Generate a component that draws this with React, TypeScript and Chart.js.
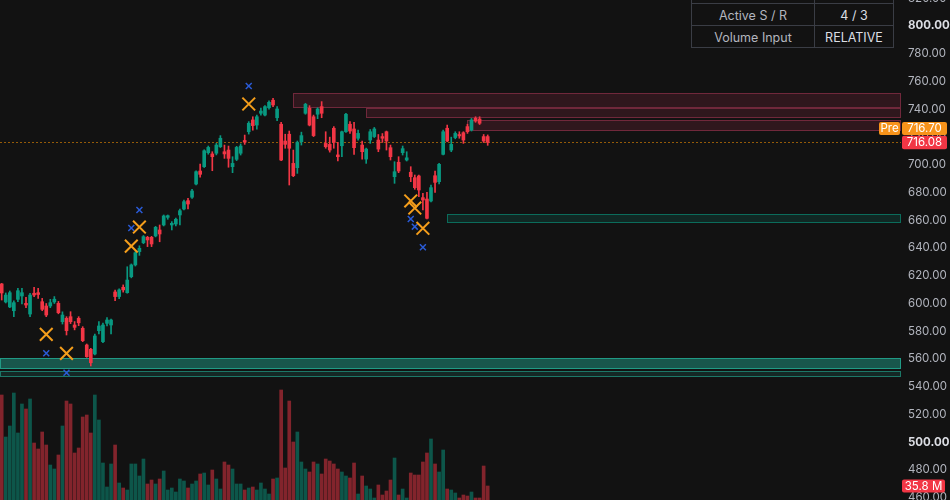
import React, { useEffect, useRef } from 'react';
import { Chart, registerables } from 'chart.js';

Chart.register(...registerables);

// ---------- DATA ----------
const OPEN = [
  614.1, 601.1, 597.5, 594.8, 603.0, 605.4, 600.1, 592.4, 607.4, 607.8,
  601.3, 598.2, 598.2, 601.1, 600.1, 586.9, 589.3, 590.5, 584.5, 589.3,
  582.1, 570.1, 567.0, 563.6, 580.4, 572.5, 585.7, 584.5, 608.3, 605.0,
  611.7, 607.8, 619.3, 627.8, 637.4, 643.8, 647.7, 647.7, 648.7, 653.0,
  656.6, 662.1, 656.6, 657.3, 663.8, 668.1, 674.1, 676.6, 686.1, 695.5,
  698.6, 708.7, 707.8, 708.3, 713.0, 709.4, 710.6, 698.6, 703.9, 708.3,
  717.5, 723.8, 732.3, 728.6, 737.1, 735.8, 741.1, 746.5, 733.9, 729.2,
  717.1, 722.0, 701.0, 697.9, 716.6, 737.1, 740.7, 734.6, 736.4, 741.9,
  715.4, 714.7, 726.3, 707.1, 713.7, 723.8, 729.2, 725.8, 719.1, 714.2,
  704.1, 717.8, 720.3, 717.8, 720.3, 723.8, 712.3, 691.4, 701.8, 708.7,
  703.4, 694.6, 690.7, 691.9, 676.3, 675.3, 673.9, 692.1, 687.8, 707.5,
  726.3, 710.6, 719.6, 721.8, 723.1, 727.5, 725.0, 733.5, 733.0, 720.3,
  720.3,
];
const HIGH = [
  614.5, 607.6, 609.0, 602.0, 611.0, 611.0, 604.5, 607.4, 611.7, 611.0,
  603.7, 600.0, 603.0, 605.0, 601.5, 594.0, 590.5, 594.1, 587.0, 590.5,
  583.3, 570.8, 567.7, 578.0, 587.0, 585.9, 589.8, 588.8, 609.6, 610.5,
  613.4, 626.5, 628.5, 637.3, 641.6, 649.0, 648.4, 648.4, 655.6, 656.6,
  663.8, 663.8, 659.0, 661.5, 668.0, 674.6, 675.8, 682.3, 695.7, 700.5,
  710.8, 713.5, 709.4, 715.4, 721.0, 714.2, 713.5, 705.8, 713.3, 715.0,
  721.4, 731.1, 734.6, 735.8, 740.9, 742.6, 746.0, 747.9, 741.9, 730.6,
  722.0, 724.3, 710.6, 717.1, 723.5, 744.3, 742.6, 735.8, 741.1, 745.5,
  723.8, 719.9, 727.5, 716.1, 724.3, 737.1, 731.1, 730.6, 725.0, 717.1,
  712.0, 725.4, 726.9, 721.8, 722.5, 724.3, 714.2, 702.2, 705.8, 713.5,
  709.4, 698.6, 692.6, 692.6, 679.4, 680.1, 685.4, 695.5, 701.0, 725.0,
  728.6, 719.9, 723.8, 723.8, 723.8, 729.2, 733.4, 734.6, 734.6, 721.8,
  721.5,
];
const LOW = [
  602.5, 600.4, 597.0, 590.5, 601.3, 599.7, 597.0, 590.5, 604.9, 603.7,
  594.8, 590.5, 597.0, 600.0, 592.6, 585.2, 577.3, 585.5, 581.0, 584.0,
  572.5, 561.2, 555.0, 562.9, 578.0, 571.8, 583.8, 578.0, 602.0, 603.5,
  608.2, 607.4, 618.5, 627.0, 634.7, 643.1, 641.0, 641.0, 648.0, 644.5,
  655.9, 660.7, 653.0, 655.9, 656.6, 667.4, 668.1, 675.8, 685.4, 691.0,
  698.0, 707.6, 695.7, 707.1, 712.4, 704.6, 698.2, 694.3, 703.0, 707.0,
  714.7, 722.1, 724.9, 725.7, 735.8, 735.2, 740.1, 741.9, 731.8, 703.0,
  711.9, 685.4, 691.4, 693.8, 714.2, 736.4, 728.0, 720.3, 733.2, 733.9,
  711.9, 709.1, 711.9, 702.7, 705.8, 723.3, 722.6, 707.5, 717.8, 704.1,
  701.0, 715.4, 719.6, 709.4, 716.1, 710.6, 703.4, 686.6, 694.3, 707.0,
  702.7, 687.8, 682.3, 677.0, 667.4, 661.0, 673.2, 680.1, 686.1, 707.1,
  716.6, 709.4, 718.7, 719.1, 715.4, 722.6, 724.3, 730.6, 729.0, 716.0,
  714.0,
];
const CLOSE = [
  607.6, 606.1, 607.8, 600.6, 609.2, 607.8, 598.9, 606.1, 606.1, 606.5,
  595.8, 591.7, 600.6, 603.1, 593.4, 591.7, 580.4, 586.9, 582.8, 586.1,
  573.2, 561.7, 557.3, 576.6, 583.8, 584.5, 588.1, 588.1, 605.0, 609.8,
  609.8, 616.9, 627.8, 636.6, 639.8, 648.2, 645.8, 642.9, 654.9, 650.1,
  663.1, 663.3, 657.8, 660.7, 666.9, 673.4, 671.7, 681.1, 695.0, 693.1,
  710.1, 712.5, 705.8, 714.2, 719.1, 707.8, 704.6, 701.0, 712.5, 713.5,
  716.3, 729.9, 728.2, 734.6, 738.7, 741.9, 745.0, 743.1, 740.2, 703.4,
  714.7, 711.9, 692.1, 716.1, 721.0, 743.6, 728.6, 721.0, 740.2, 737.1,
  713.0, 710.6, 716.1, 705.8, 723.8, 736.4, 724.3, 712.3, 722.6, 709.4,
  711.3, 723.8, 725.8, 711.3, 719.1, 717.1, 705.8, 695.0, 695.5, 711.6,
  705.0, 691.4, 683.5, 681.8, 674.6, 661.4, 683.5, 687.3, 700.3, 723.8,
  717.1, 714.7, 722.6, 720.8, 717.8, 723.8, 732.3, 731.5, 729.9, 717.1,
  716.08,
];
// volume in millions
const VOLUME = [
  268.5, 161.1, 189.2, 273.6, 171.3, 245.5, 232.7, 258.3, 145.7, 130.4,
  173.9, 140.6, 89.5, 79.3, 115.1, 189.2, 253.1, 245.5, 120.2, 133.0,
  212.2, 217.3, 171.3, 268.5, 204.6, 94.6, 33.2, 92.1, 140.6, 43.5,
  30.7, 25.6, 92.1, 92.1, 61.4, 104.8, 40.9, 51.1, 40.9, 53.7,
  74.2, 25.6, 30.7, 20.5, 53.7, 48.6, 30.7, 40.9, 48.6, 66.5,
  69.0, 38.4, 76.7, 53.7, 28.1, 97.2, 89.5, 79.3, 40.9, 40.9,
  25.6, 30.7, 33.2, 25.6, 43.5, 28.1, 15.3, 53.7, 56.3, 281.3,
  81.8, 253.1, 148.3, 173.9, 97.2, 79.3, 71.6, 97.2, 92.1, 66.5,
  104.8, 99.7, 92.1, 79.3, 71.6, 61.4, 56.3, 94.6, 15.3, 61.4,
  35.8, 28.1, 5.1, 38.4, 12.8, 23.0, 51.1, 107.4, 12.8, 28.1,
  5.1, 69.0, 63.9, 63.9, 97.2, 120.2, 156.0, 92.1, 71.6, 127.9,
  28.1, 25.6, 17.9, 5.1, 12.8, 10.2, 20.5, 5.1, 5.1, 86.9,
  35.8,
];

const PRICE_TICKS = [460, 480, 500, 520, 540, 560, 580, 600, 620, 640, 660, 680, 700, 720, 740, 760, 780, 800, 820];
const BOLD_TICKS = [500, 800];

const PRE_PRICE = 716.70;

// resistance zones: start bar, top price, bottom price
const RES_START = [72, 90, 115];
const RES_TOP = [751.5, 741.1, 732.3];
const RES_BOTTOM = [741.1, 733.5, 724.5];
// support zones
const SUP_START = [110, -5, -5];
const SUP_TOP = [664.3, 560.5, 551.4];
const SUP_BOTTOM = [657.8, 552.6, 547.3];

// signal markers
const SIGNAL_IDX = [11, 16, 32, 34, 61, 101, 102, 104];
const ORANGE_X_PRICE = [577.8, 564.1, 641.4, 655.1, 743.8, 673.9, 668.8, 654.2];
const BLUE_X_PRICE = [564.1, 550.1, 654.4, 667.4, 756.8, 660.9, 655.4, 640.5];

const TABLE_ROWS = [
  ['', ''],
  ['Active S / R', '4 / 3'],
  ['Volume Input', 'RELATIVE'],
];

// ---------- STYLE ----------
const BG = '#121212';
const UP = '#089981';
const DOWN = '#f23645';
const UP_VOL = 'rgba(8,153,129,0.5)';
const DOWN_VOL = 'rgba(242,54,69,0.5)';
const ORANGE = '#f59e1b';
const BLUE = '#2a5bd7';
const FONT = 'Inter, "Noto Sans", sans-serif';
const RES_FILL = 'rgba(200,50,90,0.16)';
const RES_LINE = 'rgba(220,70,110,0.38)';
const SUP_FILL = ['rgba(8,153,129,0.16)', 'rgba(34,171,148,0.45)', 'rgba(34,171,148,0.15)'];
const SUP_LINE = ['rgba(8,153,129,0.6)', 'rgba(34,171,148,0.8)', 'rgba(34,171,148,0.6)'];

const overlayPlugin = {
  id: 'overlays',
  beforeDatasetsDraw(chart: any) {
    const { ctx, chartArea, scales } = chart;
    const xs = scales.x;
    const ys = scales.y;
    ctx.save();
    ctx.beginPath();
    ctx.rect(chartArea.left, chartArea.top, chartArea.right - chartArea.left, chartArea.bottom - chartArea.top);
    ctx.clip();
    const drawZone = (start: number, top: number, bottom: number, fill: string, line: string) => {
      const x0 = Math.max(chartArea.left, Math.round(xs.getPixelForValue(start)));
      const x1 = chartArea.right;
      const y0 = Math.round(ys.getPixelForValue(top));
      const y1 = Math.round(ys.getPixelForValue(bottom));
      ctx.fillStyle = fill;
      ctx.fillRect(x0, y0, x1 - x0, y1 - y0);
      ctx.strokeStyle = line;
      ctx.lineWidth = 1;
      ctx.strokeRect(x0 + 0.5, y0 + 0.5, x1 - x0 - 1, y1 - y0 - 1);
    };
    RES_START.forEach((s, k) => drawZone(s, RES_TOP[k], RES_BOTTOM[k], RES_FILL, RES_LINE));
    SUP_START.forEach((s, k) => drawZone(s, SUP_TOP[k], SUP_BOTTOM[k], SUP_FILL[k], SUP_LINE[k]));
    // pre-market dotted line
    const py = Math.round(ys.getPixelForValue(PRE_PRICE)) + 0.5;
    ctx.strokeStyle = 'rgba(255,152,0,0.55)';
    ctx.setLineDash([2, 2]);
    ctx.beginPath();
    ctx.moveTo(chartArea.left, py);
    ctx.lineTo(chartArea.right, py);
    ctx.stroke();
    ctx.restore();
  },
  afterDraw(chart: any) {
    const { ctx, chartArea, scales } = chart;
    const ys = scales.y;
    const vs = scales.vol;
    const label = (x: number, yc: number, w: number, h: number, bg: string, text: string, color: string) => {
      ctx.fillStyle = bg;
      ctx.beginPath();
      if (ctx.roundRect) ctx.roundRect(x, yc - h / 2, w, h, 2);
      else ctx.rect(x, yc - h / 2, w, h);
      ctx.fill();
      ctx.fillStyle = color;
      ctx.font = `11.5px ${FONT}`;
      ctx.textAlign = 'center';
      ctx.textBaseline = 'middle';
      ctx.fillText(text, x + w / 2, yc + 0.5);
    };
    ctx.save();
    const last = CLOSE[CLOSE.length - 1];
    const ly = ys.getPixelForValue(last);
    label(chartArea.right + 1, ly, 45, 13.5, DOWN, last.toFixed(2), '#ffffff');
    label(chartArea.right + 1, ly - 14, 45, 13, '#f7931a', PRE_PRICE.toFixed(2), '#ffffff');
    label(chartArea.right - 22, ly - 14, 21, 13, '#f7931a', 'Pre', '#ffffff');
    const lv = VOLUME[VOLUME.length - 1];
    label(chartArea.right + 1, vs.getPixelForValue(lv), 43, 13, DOWN, `${lv.toFixed(1)} M`, '#ffffff');
    ctx.restore();
  },
};

export default function App() {
  const ref = useRef<HTMLCanvasElement>(null);
  useEffect(() => {
    document.body.style.background = BG;
    const idx = CLOSE.map((_, i) => i);
    const colors = idx.map((i) => (CLOSE[i] >= OPEN[i] ? UP : DOWN));
    const volColors = idx.map((i) => (CLOSE[i] >= OPEN[i] ? UP_VOL : DOWN_VOL));
    const chart = new Chart(ref.current as HTMLCanvasElement, {
      type: 'bar',
      data: {
        datasets: [
          {
            type: 'bar',
            label: 'Volume',
            yAxisID: 'vol',
            data: idx.map((i) => ({ x: i, y: VOLUME[i] })),
            backgroundColor: volColors,
            barThickness: 3,
            grouped: false,
            order: 5,
          } as any,
          {
            type: 'bar',
            label: 'Wick',
            yAxisID: 'y',
            data: idx.map((i) => ({ x: i, y: [LOW[i], HIGH[i]] })),
            backgroundColor: colors,
            barThickness: 1,
            grouped: false,
            order: 4,
          } as any,
          {
            type: 'bar',
            label: 'Body',
            yAxisID: 'y',
            data: idx.map((i) => ({ x: i, y: [OPEN[i], CLOSE[i]] })),
            backgroundColor: colors,
            barThickness: 3,
            minBarLength: 1,
            grouped: false,
            order: 3,
          } as any,
          {
            type: 'scatter',
            label: 'Signal',
            yAxisID: 'y',
            data: SIGNAL_IDX.map((x, k) => ({ x, y: ORANGE_X_PRICE[k] })),
            pointStyle: 'crossRot',
            pointRadius: 9,
            borderColor: ORANGE,
            backgroundColor: ORANGE,
            borderWidth: 2,
            order: 1,
          } as any,
          {
            type: 'scatter',
            label: 'Pivot',
            yAxisID: 'y',
            data: SIGNAL_IDX.map((x, k) => ({ x, y: BLUE_X_PRICE[k] })),
            pointStyle: 'crossRot',
            pointRadius: 4.2,
            borderColor: BLUE,
            backgroundColor: BLUE,
            borderWidth: 1.5,
            order: 2,
          } as any,
        ],
      },
      options: {
        animation: false,
        responsive: false,
        devicePixelRatio: 1,
        events: [],
        layout: { padding: 0, autoPadding: false },
        plugins: { legend: { display: false }, tooltip: { enabled: false } },
        scales: {
          x: {
            type: 'linear',
            display: false,
            offset: false,
            min: -0.42,
            max: 222.05,
            grid: { display: false },
          },
          y: {
            type: 'linear',
            position: 'right',
            min: 458.38,
            max: 825.95,
            grid: { display: false, drawTicks: false },
            border: { display: false },
            afterBuildTicks: (scale: any) => {
              scale.ticks = PRICE_TICKS.map((v) => ({ value: v }));
            },
            afterFit: (scale: any) => {
              scale.width = 49;
              scale.paddingTop = 0;
              scale.paddingBottom = 0;
            },
            ticks: {
              padding: 7,
              autoSkip: false,
              callback: (v: any) => Number(v).toFixed(2),
              color: (c: any) => (BOLD_TICKS.includes(c.tick?.value) ? '#dcdee4' : '#b2b5be'),
              font: (c: any) => ({
                family: FONT,
                size: 11.5,
                weight: BOLD_TICKS.includes(c.tick?.value) ? 'bold' : 'normal',
              }),
            },
          },
          vol: {
            type: 'linear',
            display: false,
            min: 0,
            max: 1304,
            grid: { display: false },
          },
        },
      } as any,
      plugins: [overlayPlugin],
    });
    return () => chart.destroy();
  }, []);

  const border = '1px solid #3a3d45';
  return (
    <div style={{ position: 'absolute', left: 0, top: -10, width: 950, height: 510, background: BG, overflow: 'hidden' }}>
      <canvas ref={ref} width={950} height={510} style={{ display: 'block' }} />
      <div
        style={{
          position: 'absolute',
          left: 691,
          top: -8,
          width: 203,
          boxSizing: 'border-box',
          borderLeft: border,
          borderRight: border,
          background: BG,
          fontFamily: FONT,
          fontSize: 12.5,
        }}
      >
        {TABLE_ROWS.map((r, k) => (
          <div key={k} style={{ display: 'flex', height: 22, boxSizing: 'border-box', borderBottom: border }}>
            <div
              style={{
                width: 123,
                boxSizing: 'border-box',
                borderRight: border,
                color: '#b2b5be',
                textAlign: 'center',
                lineHeight: '23px',
              }}
            >
              {r[0]}
            </div>
            <div style={{ flex: 1, color: '#dcdee4', textAlign: 'center', lineHeight: '23px' }}>{r[1]}</div>
          </div>
        ))}
      </div>
    </div>
  );
}
